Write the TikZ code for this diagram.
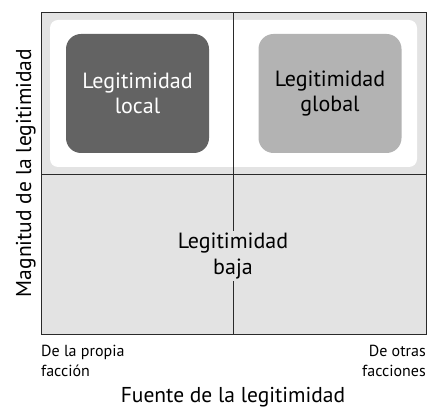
\documentclass[tikz,border=0pt]{standalone}
\usepackage{fontspec}
\setmainfont{PT Sans}
\definecolor{panel}{HTML}{E3E3E3}
\definecolor{darkbox}{HTML}{636363}
\definecolor{lightbox}{HTML}{B3B3B3}
\definecolor{rule}{HTML}{2A2A2A}
\begin{document}
\begin{tikzpicture}[x=1pt,y=1pt,
  cell/.style={rounded corners=15pt, minimum width=143pt, minimum height=119pt, inner sep=0pt, align=center, font=\fontsize{22}{25}\selectfont},
  small/.style={font=\fontsize{16}{20}\selectfont, inner sep=0pt},
  axis/.style={font=\fontsize{21.5}{24}\selectfont, inner sep=0pt}]
\useasboundingbox (0,0) rectangle (427,411);
\fill[panel] (41,76) rectangle (426,398);
\fill[white, rounded corners=8pt] (50,244) rectangle (417,391);
\node[cell, fill=darkbox, text=white] (local) at (137.5,317.5) {Legitimidad\\local};
\node[cell, fill=lightbox, text=black] (global) at (330,317.5) {Legitimidad\\global};
\coordinate (vt) at (233,398);
\coordinate (vb) at (233,76);
\coordinate (hl) at (41,237);
\coordinate (hr) at (426,237);
\draw[rule, line width=0.9pt] (vt) -- (vb);
\draw[rule, line width=0.9pt] (hl) -- (hr);
\draw[rule, line width=1pt] (41,76) rectangle (426,398);
\node[fill=panel, align=center, inner sep=2pt, font=\fontsize{22}{26.5}\selectfont] (baja) at (233,155) {Legitimidad\\baja};
\node[small, anchor=base west, align=left] (propia) at (41,34) {De la propia\\facción};
\node[small, anchor=base east, align=right] (otras) at (426,34) {De otras\\facciones};
\node[axis, anchor=base] (fuente) at (233,9) {Fuente de la legitimidad};
\node[axis, rotate=90, anchor=base] (magnitud) at (31,238) {Magnitud de la legitimidad};
\end{tikzpicture}
\end{document}
